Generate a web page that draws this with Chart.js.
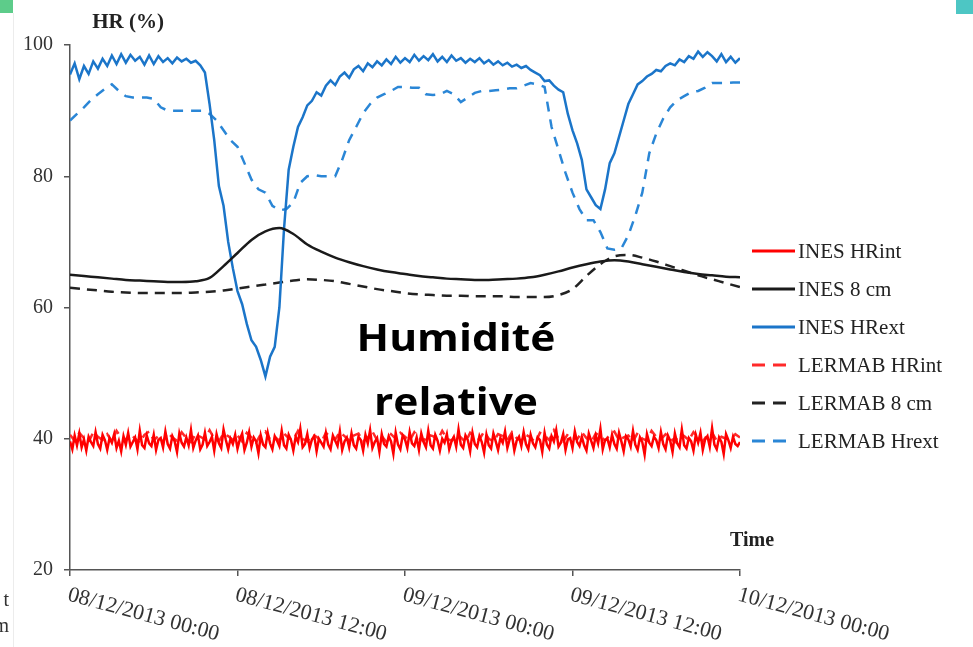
<!DOCTYPE html>
<html lang="fr">
<head>
<meta charset="utf-8">
<title>Humidité relative</title>
<script src="https://cdn.jsdelivr.net/npm/chart.js@4.4.1/dist/chart.umd.min.js"></script>
<style>
    html, body { margin: 0; padding: 0; background: #fff; }
    #graphiqueHR { display: block; }
</style>
</head>
<body>
<canvas id="graphiqueHR" width="973" height="647"></canvas>
<script>
// Axe du temps (heures depuis le 08/12/2013 00:00)
const heuresTicks = [0, 12, 24, 36, 48];
const etiquettesTemps = ['08/12/2013 00:00', '08/12/2013 12:00', '09/12/2013 00:00', '09/12/2013 12:00', '10/12/2013 00:00'];

// Pas d'acquisition de chaque série, en heures
const pasDixMinutes = 1 / 6;
const pasVingtMinutes = 1 / 3;
const pasDemiHeure = 0.5;
const pasHoraire = 1;

// INES HRint (%), toutes les 10 minutes
const inesHRint = [
    39.6, 38.4, 40.5, 39.0, 40.8, 38.7, 39.9, 38.2, 40.3, 39.5, 38.9, 41.0, 39.2, 38.5, 40.6, 39.8, 38.3, 40.1,
    39.4, 40.7, 38.6, 39.7, 38.1, 40.4, 39.1, 40.9, 38.8, 39.5, 40.2, 38.4, 41.2, 39.0, 38.6, 40.5, 39.3, 38.9,
    40.6, 38.3, 39.8, 40.1, 38.7, 41.1, 39.2, 38.5, 40.4, 39.6, 38.0, 40.8, 39.4, 38.8, 40.2, 39.0, 41.3, 38.6,
    39.7, 40.5, 38.4, 39.1, 40.9, 38.9, 39.5, 40.3, 38.2, 40.7, 39.3, 38.6, 41.4, 39.8, 38.4, 40.0, 39.2, 40.6,
    38.5, 39.9, 40.8, 38.3, 39.4, 41.0, 38.8, 40.2, 39.6, 37.8, 40.5, 39.1, 38.7, 40.9, 39.3, 38.4, 40.4, 39.7,
    38.9, 41.2, 39.0, 38.5, 40.6, 39.8, 38.2, 40.3, 39.5, 41.5, 38.7, 39.2, 40.7, 38.6, 39.9, 40.4, 38.1, 40.0,
    39.4, 38.8, 40.9, 39.1, 38.4, 40.5, 39.7, 38.9, 41.1, 38.3, 39.6, 40.2, 38.7, 40.8, 39.0, 38.5, 40.3, 39.8,
    38.2, 40.6, 39.3, 41.3, 38.6, 39.5, 40.1, 38.0, 40.7, 39.2, 38.8, 40.4, 39.6, 37.7, 40.9, 39.1, 38.4, 40.5,
    39.9, 38.6, 41.0, 39.3, 38.9, 40.2, 38.3, 40.8, 39.5, 38.7, 41.2, 39.0, 38.5, 40.6, 39.7, 38.2, 40.0, 39.4,
    40.7, 38.4, 39.6, 40.3, 38.8, 41.4, 39.1, 38.6, 40.5, 39.8, 38.1, 40.9, 39.2, 38.7, 40.4, 39.5, 37.9, 40.6,
    39.0, 38.5, 40.8, 39.6, 38.3, 40.1, 39.4, 41.1, 38.6, 39.9, 40.5, 38.2, 39.7, 40.3, 38.9, 41.0, 39.2, 38.4,
    40.6, 39.3, 38.7, 40.2, 39.8, 38.0, 40.9, 39.1, 38.5, 40.4, 39.6, 41.3, 38.8, 39.4, 40.7, 38.3, 39.9, 40.1,
    38.6, 41.1, 39.5, 38.9, 40.3, 39.0, 38.2, 40.8, 39.7, 38.6, 40.5, 39.3, 41.5, 38.4, 39.8, 40.0, 38.7, 40.6,
    39.2, 38.5, 40.9, 39.6, 38.1, 40.4, 39.9, 38.8, 41.2, 39.1, 38.3, 40.2, 39.5, 37.6, 40.7, 39.4, 38.9, 40.3,
    39.8, 38.6, 41.0, 39.2, 38.4, 40.5, 39.7, 38.0, 40.8, 39.3, 38.7, 41.4, 39.0, 38.5, 40.1, 39.6, 38.2, 40.6,
    39.4, 40.9, 38.3, 39.9, 40.4, 38.8, 41.6, 39.1, 38.4, 40.2, 39.5, 37.7, 40.7, 39.8, 38.6, 40.3, 39.2, 38.9,
    39.5
];

// INES 8 cm (%), horaire
const inesHuit = [
    65.0, 64.8, 64.6, 64.4, 64.2, 64.1, 64.0, 63.9, 63.9, 64.0, 64.5, 66.3,
    68.3, 70.3, 71.6, 72.1, 71.2, 69.6, 68.5, 67.6, 66.9, 66.3, 65.8, 65.4,
    65.1, 64.8, 64.6, 64.4, 64.3, 64.2, 64.2, 64.3, 64.4, 64.6, 65.0, 65.5,
    66.1, 66.6, 67.0, 67.2, 67.0, 66.6, 66.2, 65.8, 65.4, 65.1, 64.9, 64.7,
    64.6
];

// INES HRext (%), toutes les 20 minutes (une ligne = 3 heures)
const inesHRext = [
    95.5, 97.2, 94.8, 96.8, 95.6, 97.5, 96.4, 97.9, 96.8,
    98.4, 97.1, 98.6, 97.3, 98.5, 97.6, 98.2, 97.0, 98.4,
    97.1, 98.3, 97.4, 98.0, 97.2, 98.1, 97.5, 97.9, 97.3,
    97.6, 96.9, 95.8, 91.0, 85.5, 78.5, 75.5, 70.0, 66.0,
    62.5, 60.5, 57.5, 55.0, 54.0, 52.0, 49.5, 52.5, 54.0,
    60.0, 72.0, 81.0, 84.5, 87.5, 89.0, 90.8, 91.5, 92.8,
    92.3, 93.8, 94.6, 93.9, 95.2, 95.8, 95.0, 96.3, 96.8,
    96.0, 97.2, 96.6, 97.5, 96.9, 97.8, 97.1, 98.2, 97.3,
    98.0, 97.4, 98.5, 97.6, 98.3, 97.7, 98.6, 97.5, 98.2,
    97.4, 98.4, 97.6, 98.0, 97.3, 97.9, 97.4, 98.0, 97.2,
    97.7, 97.0, 97.5, 96.9, 97.3, 96.7, 97.0, 96.5, 96.8,
    96.2, 95.8, 95.4, 94.5, 94.6, 93.8, 93.2, 92.8, 89.5,
    87.0, 85.0, 82.5, 78.0, 76.8, 75.6, 75.0, 78.0, 82.0,
    83.5, 86.0, 88.5, 91.0, 92.5, 94.0, 94.5, 95.2, 95.6,
    96.2, 96.0, 96.8, 97.2, 96.9, 97.8, 97.4, 98.3, 97.9,
    99.0, 98.2, 98.9, 98.3, 97.5, 98.6, 97.4, 98.2, 97.3,
    98.0
];

// LERMAB HRint (%), toutes les 20 minutes
const lermabHRint = [
    40.6, 39.7, 40.9, 40.1, 39.5, 41.0, 40.3, 39.8, 40.7, 39.6, 41.2, 40.2,
    39.9, 40.8, 40.0, 39.4, 40.6, 41.1, 39.8, 40.4, 39.6, 40.9, 40.2, 39.7,
    41.0, 40.1, 39.5, 40.7, 40.3, 39.9, 41.3, 40.0, 39.6, 40.8, 40.4, 39.8,
    40.5, 39.6, 40.9, 40.2, 39.4, 40.7, 41.1, 39.9, 40.3, 39.7, 40.8, 40.1,
    39.8, 41.2, 40.0, 39.6, 40.6, 40.3, 39.5, 40.9, 40.2, 39.9, 41.0, 40.4,
    39.7, 40.5, 40.8, 39.6, 40.2, 41.1, 39.8, 40.4, 39.5, 40.7, 40.0, 40.9,
    40.3, 39.7, 41.0, 40.1, 39.6, 40.6, 40.4, 39.8, 41.2, 40.0, 39.7, 40.8,
    40.2, 39.5, 40.9, 40.3, 39.9, 41.1, 40.0, 39.6, 40.7, 40.4, 39.8, 41.0,
    40.1, 39.7, 40.6, 40.2, 39.4, 40.9, 40.5, 39.8, 41.3, 40.0, 39.6, 40.7,
    40.3, 39.9, 41.0, 40.1, 39.5, 40.8, 40.4, 39.7, 40.6, 41.1, 39.8, 40.2,
    40.5, 39.6, 40.9, 40.0, 39.7, 41.2, 40.3, 39.9, 40.7, 40.1, 39.5, 40.8,
    40.4, 39.8, 41.0, 40.2, 39.6, 40.6, 40.9, 39.7, 40.3, 40.0, 39.9, 40.7,
    40.2
];

// LERMAB 8 cm (%), horaire
const lermabHuit = [
    63.0, 62.8, 62.6, 62.4, 62.3, 62.2, 62.2, 62.2, 62.2, 62.3, 62.4, 62.6,
    62.9, 63.2, 63.5, 63.8, 64.1, 64.3, 64.2, 64.0, 63.6, 63.2, 62.8, 62.5,
    62.2, 62.0, 61.9, 61.8, 61.8, 61.7, 61.7, 61.7, 61.6, 61.6, 61.6, 61.9,
    62.8, 64.8, 66.6, 67.8, 68.0, 67.6, 67.0, 66.3, 65.6, 64.9, 64.3, 63.7,
    63.1
];

// LERMAB Hrext (%), toutes les 30 minutes
const lermabHRext = [
    88.5, 89.5, 90.5, 91.6, 92.5, 93.3, 94.0, 93.0, 92.2, 92.0, 92.0, 92.0,
    91.8, 90.5, 90.0, 90.0, 90.0, 90.0, 90.0, 90.0, 89.5, 88.5, 87.0, 85.5,
    84.5, 82.0, 79.5, 78.0, 77.5, 75.5, 74.8, 75.0, 76.0, 79.0, 80.0, 80.2,
    80.0, 80.0, 80.0, 82.5, 85.5, 87.5, 89.6, 91.0, 92.0, 92.5, 93.0, 93.6,
    93.6, 93.5, 93.5, 92.5, 92.4, 92.5, 93.0, 92.5, 91.3, 92.0, 92.7, 93.0,
    93.0, 93.1, 93.2, 93.4, 93.4, 93.8, 94.2, 94.0, 93.6, 87.5, 84.0, 80.5,
    77.5, 75.0, 73.3, 73.3, 71.5, 69.0, 68.8, 69.0, 71.0, 74.0, 77.5, 83.5,
    86.5, 88.8, 90.5, 91.6, 92.2, 92.8, 93.0, 93.5, 94.2, 94.2, 94.2, 94.3,
    94.3
];

// Transforme une liste de mesures en points {x: heure, y: valeur}
function serie(valeurs, pas) {
    return valeurs.map((v, i) => ({ x: i * pas, y: v }));
}

const policeSerif = '"Liberation Serif", "Times New Roman", serif';

// Légende, titres d'axes, dates inclinées et texte central
const decorHR = {
    id: 'decorHR',
    beforeDraw(chart) {
        const ctx = chart.ctx;
        ctx.save();
        ctx.fillStyle = '#5dcc8a';
        ctx.fillRect(0, 0, 13, 13);
        ctx.fillStyle = '#4dc6c4';
        ctx.fillRect(956, 0, 17, 14);
        ctx.strokeStyle = '#ececec';
        ctx.lineWidth = 1;
        ctx.beginPath();
        ctx.moveTo(13.5, 13);
        ctx.lineTo(13.5, 647);
        ctx.stroke();
        ctx.fillStyle = '#333';
        ctx.font = '20px ' + policeSerif;
        ctx.textAlign = 'right';
        ctx.textBaseline = 'alphabetic';
        ctx.fillText('t', 9, 606);
        ctx.fillText('m', 9, 632);
        ctx.restore();
    },
    afterDraw(chart) {
        const ctx = chart.ctx;
        const echelleX = chart.scales.x;
        const bas = chart.chartArea.bottom;
        ctx.save();

        // Dates sous l'axe, inclinées vers le bas
        ctx.font = '22px ' + policeSerif;
        ctx.fillStyle = '#333';
        ctx.textAlign = 'left';
        ctx.textBaseline = 'top';
        heuresTicks.forEach((h, i) => {
            const x = echelleX.getPixelForValue(h);
            ctx.save();
            ctx.translate(x + 1, bas + 14);
            ctx.rotate(15 * Math.PI / 180);
            ctx.fillText(etiquettesTemps[i], 0, 0);
            ctx.restore();
        });

        // Titres des axes
        ctx.font = 'bold 21px ' + policeSerif;
        ctx.fillStyle = '#222';
        ctx.textBaseline = 'alphabetic';
        ctx.textAlign = 'center';
        ctx.fillText('HR (%)', 128, 28);
        ctx.textAlign = 'left';
        ctx.font = 'bold 20px ' + policeSerif;
        ctx.fillText('Time', 730, 546);

        // Légende à droite
        ctx.font = '21px ' + policeSerif;
        ctx.textBaseline = 'middle';
        chart.data.datasets.forEach((ds, i) => {
            const y = 251 + i * 38;
            ctx.strokeStyle = ds.borderColor;
            ctx.lineWidth = 3;
            ctx.setLineDash(ds.borderDash ? [13, 8] : []);
            ctx.beginPath();
            ctx.moveTo(752, y);
            ctx.lineTo(ds.borderDash ? 786 : 795, y);
            ctx.stroke();
            ctx.setLineDash([]);
            ctx.fillStyle = '#222';
            ctx.fillText(ds.label, 798, y + 1);
        });

        // Texte central, un peu élargi
        ctx.font = 'bold 37px "Open Sans", sans-serif';
        ctx.fillStyle = '#000';
        ctx.textAlign = 'center';
        ctx.textBaseline = 'alphabetic';
        ctx.translate(456, 0);
        ctx.scale(1.15, 1);
        ctx.fillText('Humidité', 0, 351);
        ctx.fillText('relative', 0, 415);
        ctx.restore();
    }
};

const lisse = { tension: 0.4, cubicInterpolationMode: 'monotone' };

new Chart(document.getElementById('graphiqueHR'), {
    type: 'line',
    data: {
        datasets: [
            { label: 'INES HRint', data: serie(inesHRint, pasDixMinutes), borderColor: '#ff0000', borderWidth: 2.5 },
            { label: 'INES 8 cm', data: serie(inesHuit, pasHoraire), borderColor: '#1a1a1a', borderWidth: 2.5, ...lisse },
            { label: 'INES HRext', data: serie(inesHRext, pasVingtMinutes), borderColor: '#1b75c9', borderWidth: 2.5 },
            { label: 'LERMAB HRint', data: serie(lermabHRint, pasVingtMinutes), borderColor: '#ff2a2a', borderWidth: 2.5, borderDash: [9, 6] },
            { label: 'LERMAB 8 cm', data: serie(lermabHuit, pasHoraire), borderColor: '#222222', borderWidth: 2.5, borderDash: [10, 7], ...lisse },
            { label: 'LERMAB Hrext', data: serie(lermabHRext, pasDemiHeure), borderColor: '#2a86d6', borderWidth: 2.5, borderDash: [10, 8] }
        ]
    },
    options: {
        responsive: false,
        devicePixelRatio: 1,
        animation: false,
        parsing: false,
        elements: { point: { radius: 0 }, line: { tension: 0 } },
        layout: { padding: { top: 45, right: 233, left: 0, bottom: 0 } },
        plugins: { legend: { display: false }, tooltip: { enabled: false } },
        scales: {
            x: {
                type: 'linear',
                min: 0,
                max: 48,
                afterFit: (echelle) => { echelle.height = 77; },
                ticks: { display: false, stepSize: 12 },
                grid: { drawOnChartArea: false, tickLength: 6, color: '#555', lineWidth: 1.5 },
                border: { color: '#555', width: 1.5 }
            },
            y: {
                min: 20,
                max: 100,
                afterFit: (echelle) => { echelle.width = 70; },
                ticks: { stepSize: 20, color: '#333', padding: 11, font: { family: policeSerif, size: 20 } },
                grid: { drawOnChartArea: false, tickLength: 6, color: '#555', lineWidth: 1.5 },
                border: { color: '#555', width: 1.5 }
            }
        }
    },
    plugins: [decorHR]
});
</script>
</body>
</html>
